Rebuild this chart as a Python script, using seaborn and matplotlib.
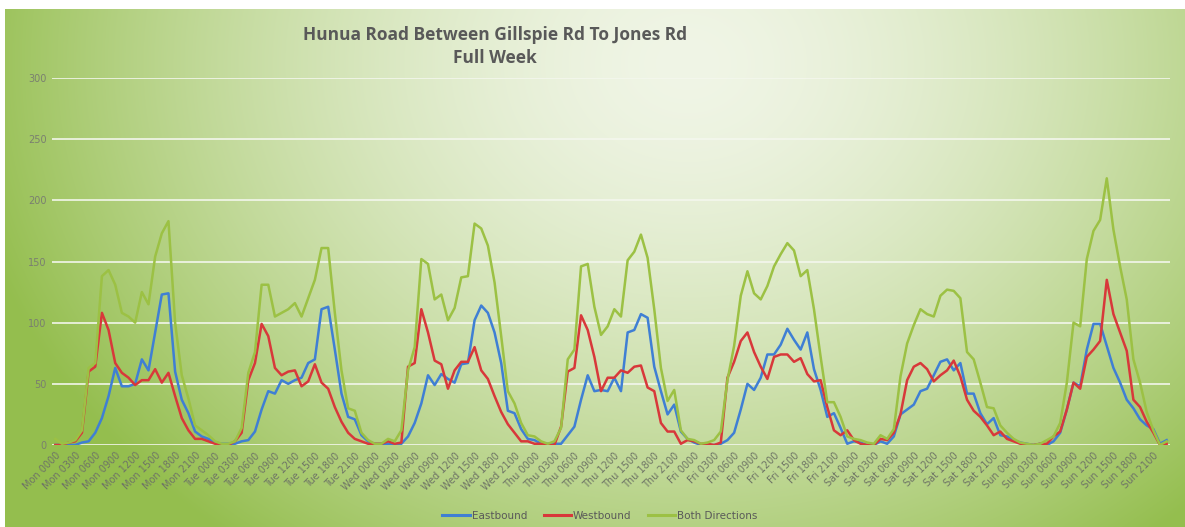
import numpy as np
import pandas as pd
import matplotlib
matplotlib.use("Agg")
import matplotlib.pyplot as plt
import seaborn as sns
from matplotlib.lines import Line2D

days = ["Mon", "Tue", "Wed", "Thu", "Fri", "Sat", "Sun"]
hours = [f"{h:02d}00" for h in range(24)]
slots = [f"{d} {h}" for d in days for h in hours]

eastbound = [
    # Mon
    0, 0, 0, 0, 2, 3, 10, 22, 40, 63, 48, 48, 50, 70, 61, 92, 123, 124, 60, 37, 26, 11, 7, 5,
    # Tue
    2, 1, 1, 1, 3, 4, 11, 29, 44, 42, 53, 50, 53, 55, 67, 70, 111, 113, 78, 42, 23, 21, 8, 3,
    # Wed
    1, 1, 1, 0, 1, 7, 18, 34, 57, 49, 58, 54, 51, 66, 67, 102, 114, 108, 92, 67, 28, 26, 13, 5,
    # Thu
    4, 1, 1, 1, 1, 8, 15, 37, 57, 44, 45, 44, 55, 44, 92, 94, 107, 104, 64, 44, 25, 33, 11, 5,
    # Fri
    2, 0, 0, 0, 1, 4, 10, 29, 50, 45, 55, 74, 74, 82, 95, 86, 78, 92, 62, 45, 23, 26, 14, 1,
    # Sat
    3, 2, 0, 0, 3, 1, 7, 25, 29, 33, 44, 46, 57, 68, 70, 61, 67, 42, 42, 26, 17, 22, 8, 7,
    # Sun
    4, 2, 1, 0, 1, 0, 3, 10, 29, 51, 48, 78, 99, 99, 81, 63, 51, 37, 30, 21, 16, 13, 1, 4,
]

westbound = [
    # Mon
    0, 0, 2, 3, 10, 60, 64, 108, 94, 67, 59, 55, 49, 53, 53, 62, 51, 59, 40, 22, 12, 5, 5, 3,
    # Tue
    1, 0, 0, 3, 10, 53, 67, 99, 89, 63, 57, 60, 61, 48, 52, 66, 51, 46, 31, 19, 10, 5, 3, 1,
    # Wed
    1, 1, 3, 1, 2, 64, 67, 111, 92, 69, 66, 46, 61, 68, 68, 80, 61, 54, 40, 27, 17, 10, 3, 3,
    # Thu
    1, 1, 0, 0, 15, 60, 63, 106, 94, 72, 44, 55, 55, 61, 59, 64, 65, 47, 44, 18, 11, 11, 1, 4,
    # Fri
    3, 1, 1, 0, 2, 55, 68, 85, 92, 76, 64, 54, 72, 74, 74, 68, 71, 58, 52, 53, 31, 12, 8, 12,
    # Sat
    4, 1, 0, 0, 5, 4, 10, 25, 53, 64, 67, 62, 52, 57, 61, 69, 56, 37, 28, 23, 16, 8, 11, 5,
    # Sun
    3, 1, 0, 0, 1, 1, 7, 11, 29, 51, 46, 72, 78, 85, 135, 107, 92, 77, 37, 31, 19, 10, 0, 1,
]

both_directions = [
    # Mon
    5, 1, 2, 4, 12, 63, 67, 138, 143, 131, 108, 105, 100, 125, 115, 154, 173, 183, 100, 57, 38, 16, 12, 8,
    # Tue
    3, 1, 1, 3, 14, 59, 76, 131, 131, 105, 108, 111, 116, 105, 120, 135, 161, 161, 108, 61, 30, 28, 10, 4,
    # Wed
    1, 1, 5, 3, 12, 61, 80, 152, 148, 119, 123, 102, 112, 137, 138, 181, 177, 163, 133, 89, 44, 34, 18, 8,
    # Thu
    7, 3, 1, 3, 14, 70, 78, 146, 148, 113, 90, 97, 111, 105, 151, 158, 172, 153, 111, 63, 36, 45, 12, 5,
    # Fri
    4, 1, 2, 4, 11, 53, 81, 122, 142, 124, 119, 130, 146, 156, 165, 159, 138, 143, 111, 72, 35, 35, 23, 7,
    # Sat
    5, 4, 2, 1, 8, 5, 13, 56, 83, 98, 111, 107, 105, 122, 127, 126, 120, 76, 70, 51, 31, 30, 16, 10,
    # Sun
    5, 2, 1, 0, 1, 4, 7, 18, 51, 100, 97, 152, 175, 184, 218, 176, 146, 119, 70, 51, 27, 12, 0, 3,
]

y_ticks = [0, 50, 100, 150, 200, 250, 300]
title_lines = ["Hunua Road Between Gillspie Rd To Jones Rd", "Full Week"]

series_names = ["Eastbound", "Westbound", "Both Directions"]
colors = {"Eastbound": "#3f7fd4", "Westbound": "#d8383a", "Both Directions": "#9cc144"}

n = len(slots)
df = pd.DataFrame({
    "pos": list(range(n)) * 3,
    "slot": slots * 3,
    "value": eastbound + westbound + both_directions,
    "series": ["Eastbound"] * n + ["Westbound"] * n + ["Both Directions"] * n,
})

W, H = 1185, 527
fig = plt.figure(figsize=(W / 100, H / 100), dpi=100)

# background gradient
bg = fig.add_axes([0, 0, 1, 1], zorder=-10)
yy, xx = np.mgrid[0:H, 0:W]
u = (xx - 0.58 * W) / W
v = (yy - 0.12 * H) / H
d = np.sqrt((u / 0.62) ** 2 + (v / 1.15) ** 2)
t = np.clip(d, 0, 1) ** 1.6
light = np.array([240, 245, 230]) / 255
dark = np.array([148, 190, 78]) / 255
img = light[None, None, :] * (1 - t[..., None]) + dark[None, None, :] * t[..., None]
img[:9, :, :] = 1.0
img[:, :5, :] = 1.0
bg.imshow(img, aspect="auto", extent=[0, W, H, 0])
bg.set_xlim(0, W)
bg.set_ylim(H, 0)
bg.axis("off")

ax = fig.add_axes([52 / W, (H - 445) / H, (1170 - 52) / W, (445 - 78) / H])
ax.set_facecolor("none")

sns.lineplot(data=df, x="pos", y="value", hue="series", hue_order=series_names,
             palette=colors, linewidth=1.8, ax=ax, legend=False)

ax.set_xlim(-0.5, n - 0.5)
ax.set_ylim(0, 300)
ax.set_yticks(y_ticks)
ax.set_yticklabels([str(v) for v in y_ticks], fontsize=7, color="#7a7f70")
tick_pos = list(range(0, n, 3))
ax.set_xticks(tick_pos)
ax.set_xticklabels([slots[i] for i in tick_pos], rotation=45, ha="right",
                   rotation_mode="anchor", fontsize=7, color="#6f7566")
ax.tick_params(length=0, pad=4)
ax.grid(axis="y", color="#f4f7ee", linewidth=1.3, alpha=0.9)
ax.grid(axis="x", visible=False)
ax.set_axisbelow(True)
for s in ax.spines.values():
    s.set_visible(False)
ax.set_xlabel("")
ax.set_ylabel("")

fig.text(495 / W, 1 - 35 / H, title_lines[0], ha="center", va="center",
         fontsize=12.5, fontweight="bold", color="#595959", family="Open Sans")
fig.text(495 / W, 1 - 58 / H, title_lines[1], ha="center", va="center",
         fontsize=12.5, fontweight="bold", color="#595959", family="Open Sans")

handles = [Line2D([0], [0], color=colors[s], linewidth=2.2) for s in series_names]
fig.legend(handles, series_names, loc="center", bbox_to_anchor=(600 / W, 1 - 516 / H),
           ncol=3, frameon=False, fontsize=7.5, labelcolor="#595959",
           handlelength=2.6, handletextpad=0.2, columnspacing=1.6)

fig.savefig("out.png", dpi=100)
